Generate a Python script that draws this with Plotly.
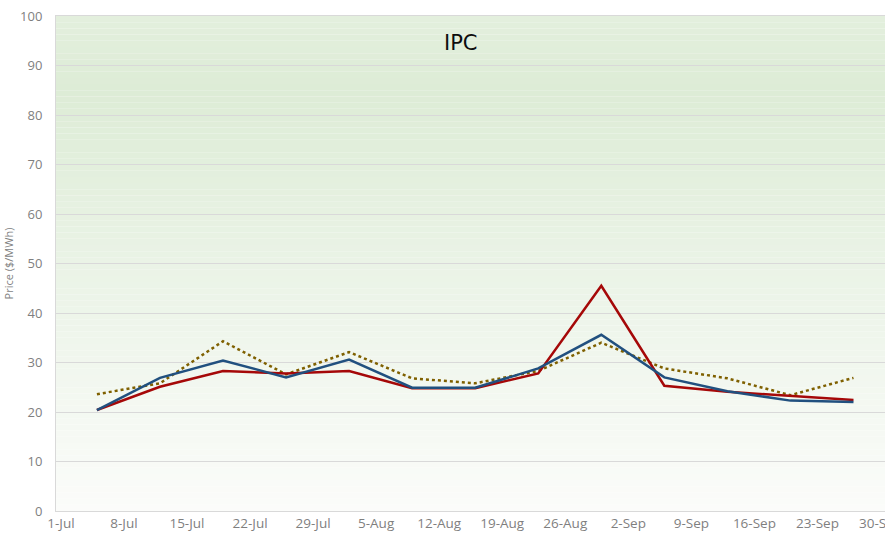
import plotly.graph_objects as go

dates = ["2013-07-05", "2013-07-12", "2013-07-19", "2013-07-26", "2013-08-02",
         "2013-08-09", "2013-08-16", "2013-08-23", "2013-08-30", "2013-09-06",
         "2013-09-13", "2013-09-20", "2013-09-27"]
red_vals = [20.4, 25.1, 28.3, 27.8, 28.3, 24.8, 24.8, 27.8, 45.5, 25.3, 24.1, 23.3, 22.4]
blue_vals = [20.4, 26.9, 30.4, 27.0, 30.6, 24.9, 24.9, 28.8, 35.6, 27.0, 24.2, 22.3, 22.0]
olive_vals = [23.6, 25.8, 34.3, 27.6, 32.1, 26.8, 25.8, 28.3, 34.0, 28.8, 26.8, 23.4, 26.9]
title_text = "IPC"
y_title = "Price ($/MWh)"

fig = go.Figure()
fig.add_trace(go.Scatter(x=dates, y=olive_vals, mode="lines",
                         line=dict(color="#7f6000", width=2.5, dash="dot"), showlegend=False))
fig.add_trace(go.Scatter(x=dates, y=red_vals, mode="lines",
                         line=dict(color="#a50808", width=2.5), showlegend=False))
fig.add_trace(go.Scatter(x=dates, y=blue_vals, mode="lines",
                         line=dict(color="#21507f", width=2.5), showlegend=False))

# gradient background bands (piecewise-linear colour stops, bottom -> top)
stops = [(0.0, (251, 252, 250)), (0.5, (234, 243, 230)), (0.85, (221, 236, 214)), (1.0, (227, 239, 221))]


def grad(f):
    for (f0, c0), (f1, c1) in zip(stops[:-1], stops[1:]):
        if f0 <= f <= f1:
            t = (f - f0) / (f1 - f0)
            return tuple(int(round(c0[k] + (c1[k] - c0[k]) * t)) for k in range(3))
    return stops[-1][1]


n = 80
shapes = []
for i in range(n):
    c = grad((i + 0.5) / n)
    shapes.append(dict(type="rect", xref="x domain", yref="y domain",
                       x0=0, x1=1, y0=i / n, y1=(i + 1) / n,
                       fillcolor="rgb(%d,%d,%d)" % c, line=dict(width=0), layer="below"))

fig.update_layout(
    width=885, height=533,
    margin=dict(l=56, r=0, t=16, b=22, autoexpand=False),
    paper_bgcolor="white", plot_bgcolor="rgba(0,0,0,0)",
    shapes=shapes,
    font=dict(family="Open Sans, Liberation Sans, sans-serif", color="#7f7f7f"),
    annotations=[dict(text=title_text, xref="paper", yref="paper", x=0.488, y=0.945,
                      xanchor="center", yanchor="middle",
                      showarrow=False, font=dict(family="DejaVu Sans, sans-serif", size=21, color="#0d0d0d"))],
)
fig.update_xaxes(
    type="date", range=["2013-06-30 11:00", "2013-09-30 12:00"],
    tick0="2013-07-01", dtick=7 * 24 * 3600 * 1000, tickformat="%-d-%b",
    showgrid=False, showline=True, linecolor="#d9d9d9", mirror=True,
    tickfont=dict(size=13.5, color="#7f7f7f"), ticks="", automargin=False,
    ticklabeloverflow="allow",
)
fig.update_yaxes(
    range=[0, 100], dtick=10, showgrid=True, gridcolor="#d9d9d9", gridwidth=1,
    showline=True, linecolor="#d9d9d9", mirror=True, zeroline=False,
    tickfont=dict(size=13, color="#7f7f7f"), ticks="outside", ticklen=10,
    tickcolor="rgba(0,0,0,0)", automargin=False,
    title=dict(text=y_title, font=dict(size=11, color="#7f7f7f"), standoff=4),
)
fig.write_html("out.html", config={"displayModeBar": False},
               post_script="document.body.style.margin='0';document.body.style.padding='0';document.body.style.overflow='hidden';")
